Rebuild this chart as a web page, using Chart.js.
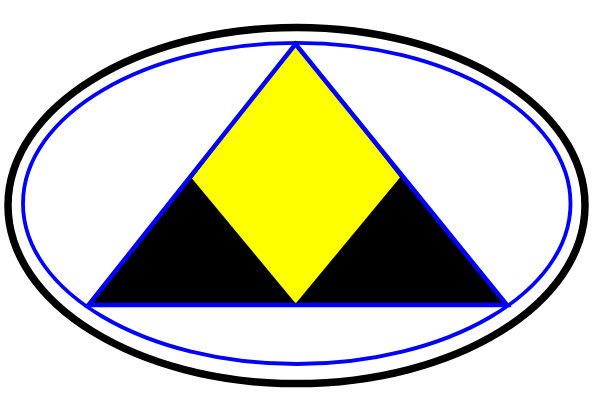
<!DOCTYPE html>
<html>
<head>
<meta charset="utf-8">
<script src="https://cdn.jsdelivr.net/npm/chart.js@4.4.1/dist/chart.umd.min.js"></script>
<style>
  html, body { margin: 0; padding: 0; background: #fff; }
  #wrap { width: 594px; height: 420px; position: relative; }
</style>
</head>
<body>
<div id="wrap"><canvas id="logo"></canvas></div>
<script>
// ─── DATA (x right, y down, same units as the 594x420 frame) ─────
// ellipses: left, top, right, bottom extremes
const outerRingX = [8, 296.5, 585, 296.5];
const outerRingY = [205.5, 27.5, 205.5, 383.5];
const innerRingX = [23, 296.75, 570.5, 296.75];
const innerRingY = [203.5, 42.8, 203.5, 364];
// triangle: apex, bottom right, bottom left
const triangleX = [295.5, 507, 88.5];
const triangleY = [44, 305, 305];
// diamond: top, right, bottom, left
const diamondX = [295.5, 400, 295.7, 192];
const diamondY = [44, 177.5, 303.5, 178.5];

const BLUE = '#0000ff';
const YELLOW = '#ffff00';
const BLACK = '#000000';
const KAPPA = 0.5523; // bezier tension that makes 4 points into an ellipse

function pts(xs, ys) {
  return xs.map((x, i) => ({ x, y: ys[i] }));
}

// line datasets flagged `closed` are drawn as a loop back to the first point
const closeShapes = {
  id: 'closeShapes',
  afterDatasetUpdate(chart, args) {
    const line = args.meta.dataset;
    if (line && chart.data.datasets[args.index].closed) {
      line._loop = true;
      line._fullLoop = true;
    }
  }
};

function shape(data, opts) {
  return Object.assign({
    data,
    closed: true,
    pointRadius: 0,
    pointHoverRadius: 0,
    borderWidth: 0,
    borderColor: 'transparent',
    backgroundColor: 'transparent',
    fill: false,
    tension: 0,
    capBezierPoints: false,
    borderJoinStyle: 'miter'
  }, opts);
}

new Chart(document.getElementById('logo'), {
  type: 'line',
  data: {
    datasets: [
      shape(pts(triangleX, triangleY), { order: 1, borderColor: BLUE, borderWidth: 4.5 }),
      shape(pts(diamondX, diamondY), { order: 2, fill: 'shape', backgroundColor: YELLOW }),
      shape(pts(triangleX, triangleY), { order: 3, fill: 'shape', backgroundColor: BLACK }),
      shape(pts(innerRingX, innerRingY), { order: 4, borderColor: BLUE, borderWidth: 3.8, tension: KAPPA }),
      shape(pts(outerRingX, outerRingY), { order: 5, borderColor: BLACK, borderWidth: 7.5, tension: KAPPA })
    ]
  },
  options: {
    responsive: true,
    maintainAspectRatio: false,
    animation: false,
    events: [],
    layout: { padding: 0 },
    plugins: { legend: { display: false }, tooltip: { enabled: false } },
    scales: {
      x: { type: 'linear', min: 0, max: 594, display: false },
      y: { type: 'linear', min: 0, max: 420, reverse: true, display: false }
    }
  },
  plugins: [closeShapes]
});
</script>
</body>
</html>
